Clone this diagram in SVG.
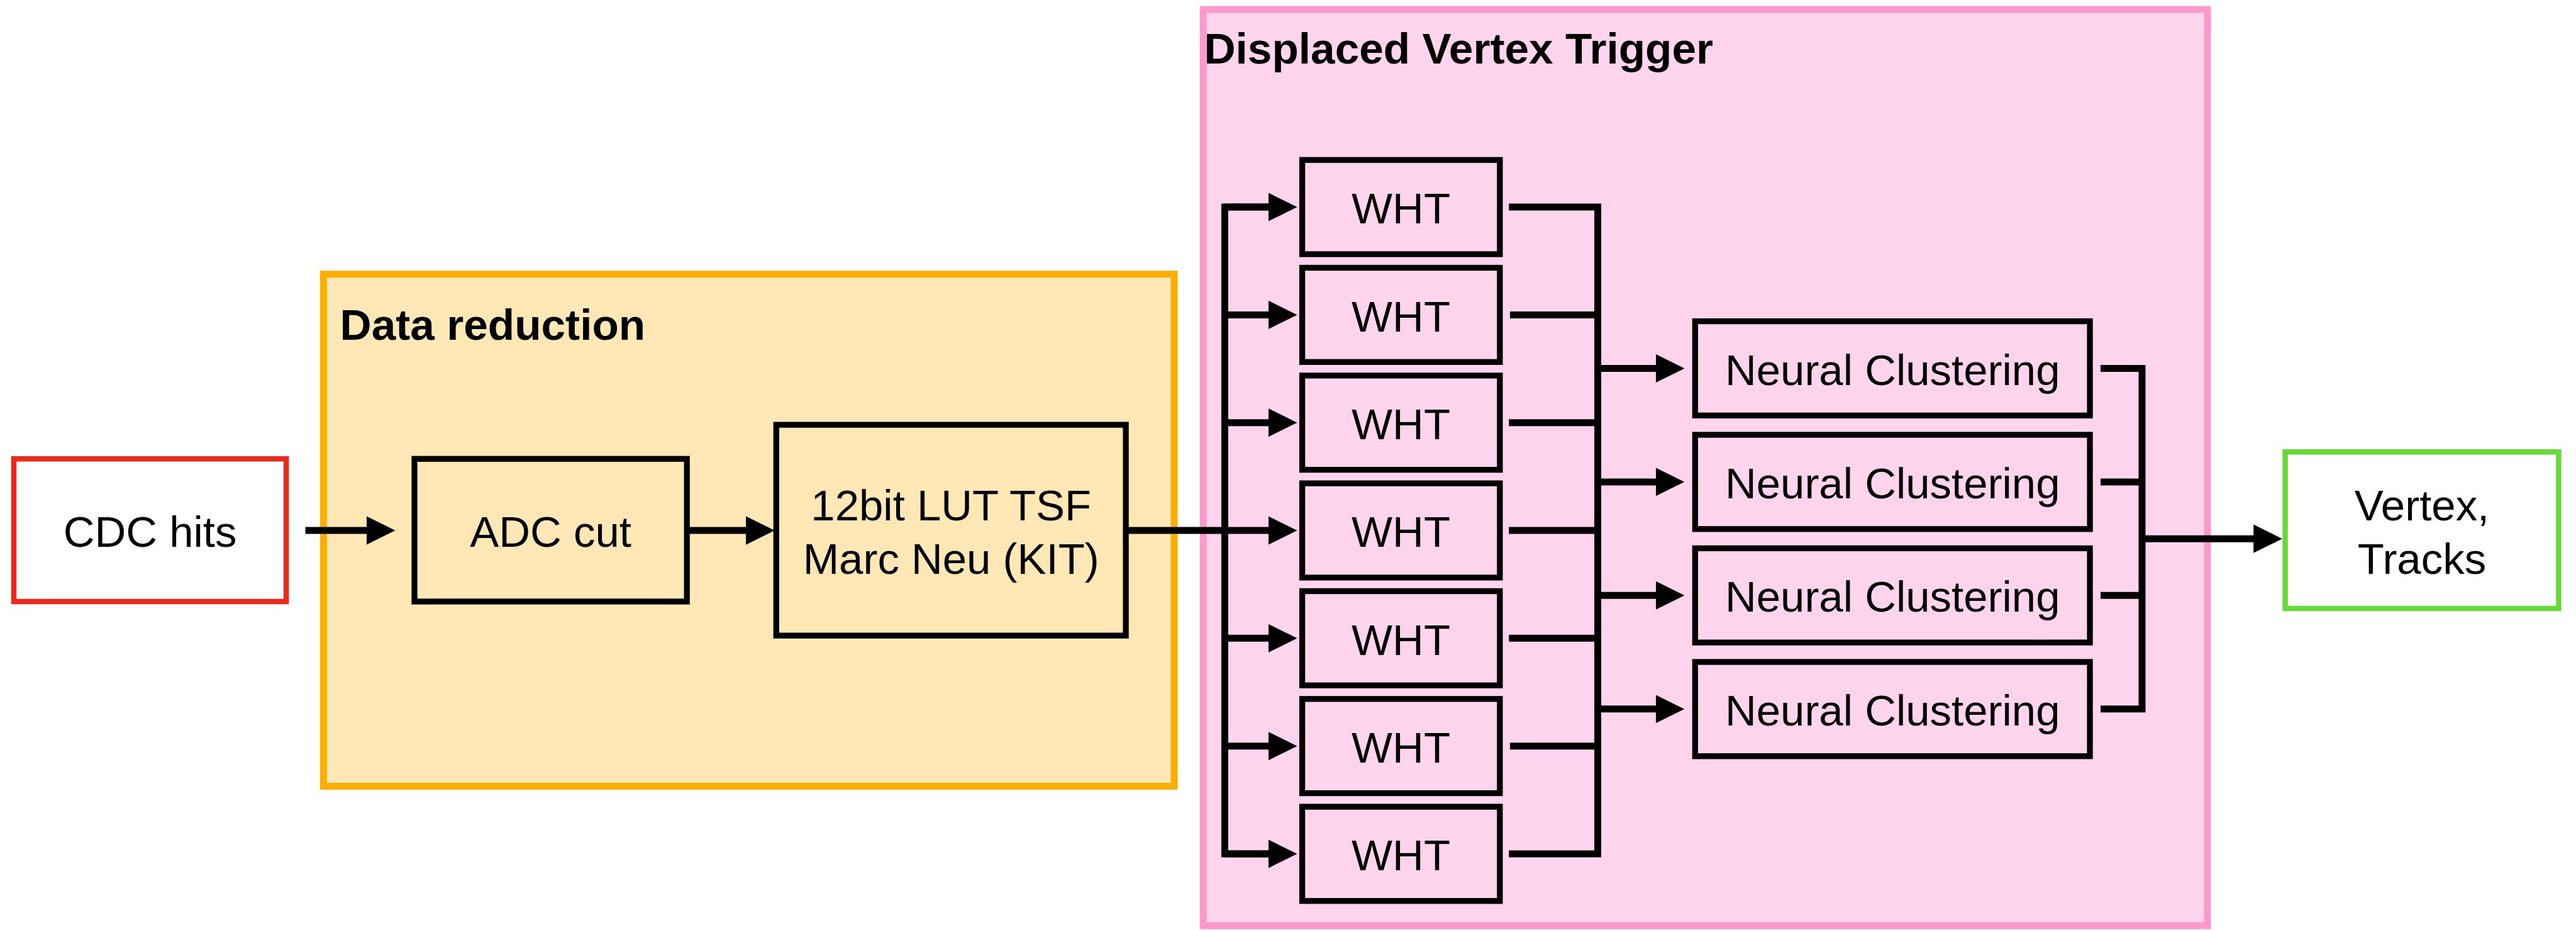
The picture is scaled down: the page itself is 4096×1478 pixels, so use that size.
<svg xmlns="http://www.w3.org/2000/svg" width="4096" height="1478" viewBox="0 0 4096 1478">
  <defs>
    <style>
      .box { fill: none; stroke: #000000; stroke-width: 11; }
      .lbl { font-family: "Liberation Sans", Arial, Helvetica, sans-serif; font-size: 81.5px; fill: #000000; text-anchor: middle; }
      .title { font-family: "Liberation Sans", Arial, Helvetica, sans-serif; font-size: 82px; font-weight: bold; fill: #000000; }
      .wire { fill: none; stroke: #000000; stroke-width: 13; stroke-linejoin: miter; stroke-linecap: butt; }
    </style>
    <marker id="arrow" markerUnits="userSpaceOnUse" viewBox="0 -27 54 54" refX="10" refY="0" markerWidth="54" markerHeight="54" orient="auto">
      <path d="M0,-26.7 L54,0 L0,26.7 Z" fill="#000000"/>
    </marker>
  </defs>

  <rect width="4096" height="1478" fill="#ffffff"/>

  <g transform="scale(0.846)">
    <!-- containers -->
    <g id="data-reduction">
      <rect x="608" y="515" width="1599" height="962" fill="#FFE8B5" stroke="#FFAD00" stroke-width="13"/>
      <text class="title" x="639" y="638">Data reduction</text>
    </g>
    <g id="displaced-vertex-trigger">
      <rect x="2261.5" y="18" width="1887.5" height="1721" fill="#FFD4EC" stroke="#FF99CC" stroke-width="13"/>
      <text class="title" x="2263" y="119">Displaced Vertex Trigger</text>
    </g>

    <!-- nodes -->
    <g id="cdc-hits">
      <rect x="26" y="862" width="512" height="268" fill="#ffffff" stroke="#F0281A" stroke-width="10"/>
      <text class="lbl" x="282" y="1027">CDC hits</text>
    </g>
    <g id="adc-cut">
      <rect class="box" x="779" y="862" width="512" height="268"/>
      <text class="lbl" x="1035" y="1027">ADC cut</text>
    </g>
    <g id="tsf">
      <rect class="box" x="1459" y="798" width="657" height="396"/>
      <text class="lbl" x="1787.5" y="977">12bit LUT TSF</text>
      <text class="lbl" x="1787.5" y="1078">Marc Neu (KIT)</text>
    </g>

    <g id="wht-1"><rect class="box" x="2447.5" y="300.5" width="371.5" height="177"/><text class="lbl" x="2633" y="420">WHT</text></g>
    <g id="wht-2"><rect class="box" x="2447.5" y="503" width="371.5" height="177"/><text class="lbl" x="2633" y="622.5">WHT</text></g>
    <g id="wht-3"><rect class="box" x="2447.5" y="705.5" width="371.5" height="177"/><text class="lbl" x="2633" y="825">WHT</text></g>
    <g id="wht-4"><rect class="box" x="2447.5" y="908" width="371.5" height="177"/><text class="lbl" x="2633" y="1027.5">WHT</text></g>
    <g id="wht-5"><rect class="box" x="2447.5" y="1110.5" width="371.5" height="177"/><text class="lbl" x="2633" y="1230">WHT</text></g>
    <g id="wht-6"><rect class="box" x="2447.5" y="1313" width="371.5" height="177"/><text class="lbl" x="2633" y="1432.5">WHT</text></g>
    <g id="wht-7"><rect class="box" x="2447.5" y="1515.5" width="371.5" height="177"/><text class="lbl" x="2633" y="1635">WHT</text></g>

    <g id="nc-1"><rect class="box" x="3186" y="603.5" width="742" height="177"/><text class="lbl" x="3557" y="723">Neural Clustering</text></g>
    <g id="nc-2"><rect class="box" x="3186" y="816.8" width="742" height="177"/><text class="lbl" x="3557" y="936.3">Neural Clustering</text></g>
    <g id="nc-3"><rect class="box" x="3186" y="1030" width="742" height="177"/><text class="lbl" x="3557" y="1149.5">Neural Clustering</text></g>
    <g id="nc-4"><rect class="box" x="3186" y="1243.5" width="742" height="177"/><text class="lbl" x="3557" y="1363">Neural Clustering</text></g>

    <g id="vertex-tracks">
      <rect x="4295" y="849" width="514" height="294" fill="#ffffff" stroke="#66DA36" stroke-width="10"/>
      <text class="lbl" x="4552" y="978">Vertex,</text>
      <text class="lbl" x="4552" y="1078">Tracks</text>
    </g>

    <!-- connectors -->
    <g id="connectors">
      <path class="wire" d="M574,996.5 H699" marker-end="url(#arrow)"/>
      <path class="wire" d="M1291,996.5 H1412" marker-end="url(#arrow)"/>
      <path class="wire" d="M2116,996.5 H2394" marker-end="url(#arrow)"/>

      <!-- fan-out bus to WHT -->
      <path class="wire" d="M2394,389 H2302 V1604 H2394"/>
      <path class="wire" d="M2302,389 H2394" marker-end="url(#arrow)"/>
      <path class="wire" d="M2302,591.5 H2394" marker-end="url(#arrow)"/>
      <path class="wire" d="M2302,794 H2394" marker-end="url(#arrow)"/>
      <path class="wire" d="M2302,1199 H2394" marker-end="url(#arrow)"/>
      <path class="wire" d="M2302,1401.5 H2394" marker-end="url(#arrow)"/>
      <path class="wire" d="M2302,1604 H2394" marker-end="url(#arrow)"/>

      <!-- WHT outputs -->
      <path class="wire" d="M2836,389 H3003 V1604 H2836"/>
      <path class="wire" d="M2838,591.5 H3003"/>
      <path class="wire" d="M2836,794 H3003"/>
      <path class="wire" d="M2836,996.5 H3003"/>
      <path class="wire" d="M2836,1199 H3003"/>
      <path class="wire" d="M2838,1401.5 H3003"/>

      <!-- to Neural Clustering -->
      <path class="wire" d="M3003,692 H3122" marker-end="url(#arrow)"/>
      <path class="wire" d="M3003,905.3 H3122" marker-end="url(#arrow)"/>
      <path class="wire" d="M3003,1118.5 H3122" marker-end="url(#arrow)"/>
      <path class="wire" d="M3003,1332 H3122" marker-end="url(#arrow)"/>

      <!-- Neural Clustering outputs -->
      <path class="wire" d="M3948,692 H4026 V1332 H3948"/>
      <path class="wire" d="M3948,905.3 H4026"/>
      <path class="wire" d="M3948,1118.5 H4026"/>
      <path class="wire" d="M4026,1012 H4245.5" marker-end="url(#arrow)"/>
    </g>
  </g>
</svg>
